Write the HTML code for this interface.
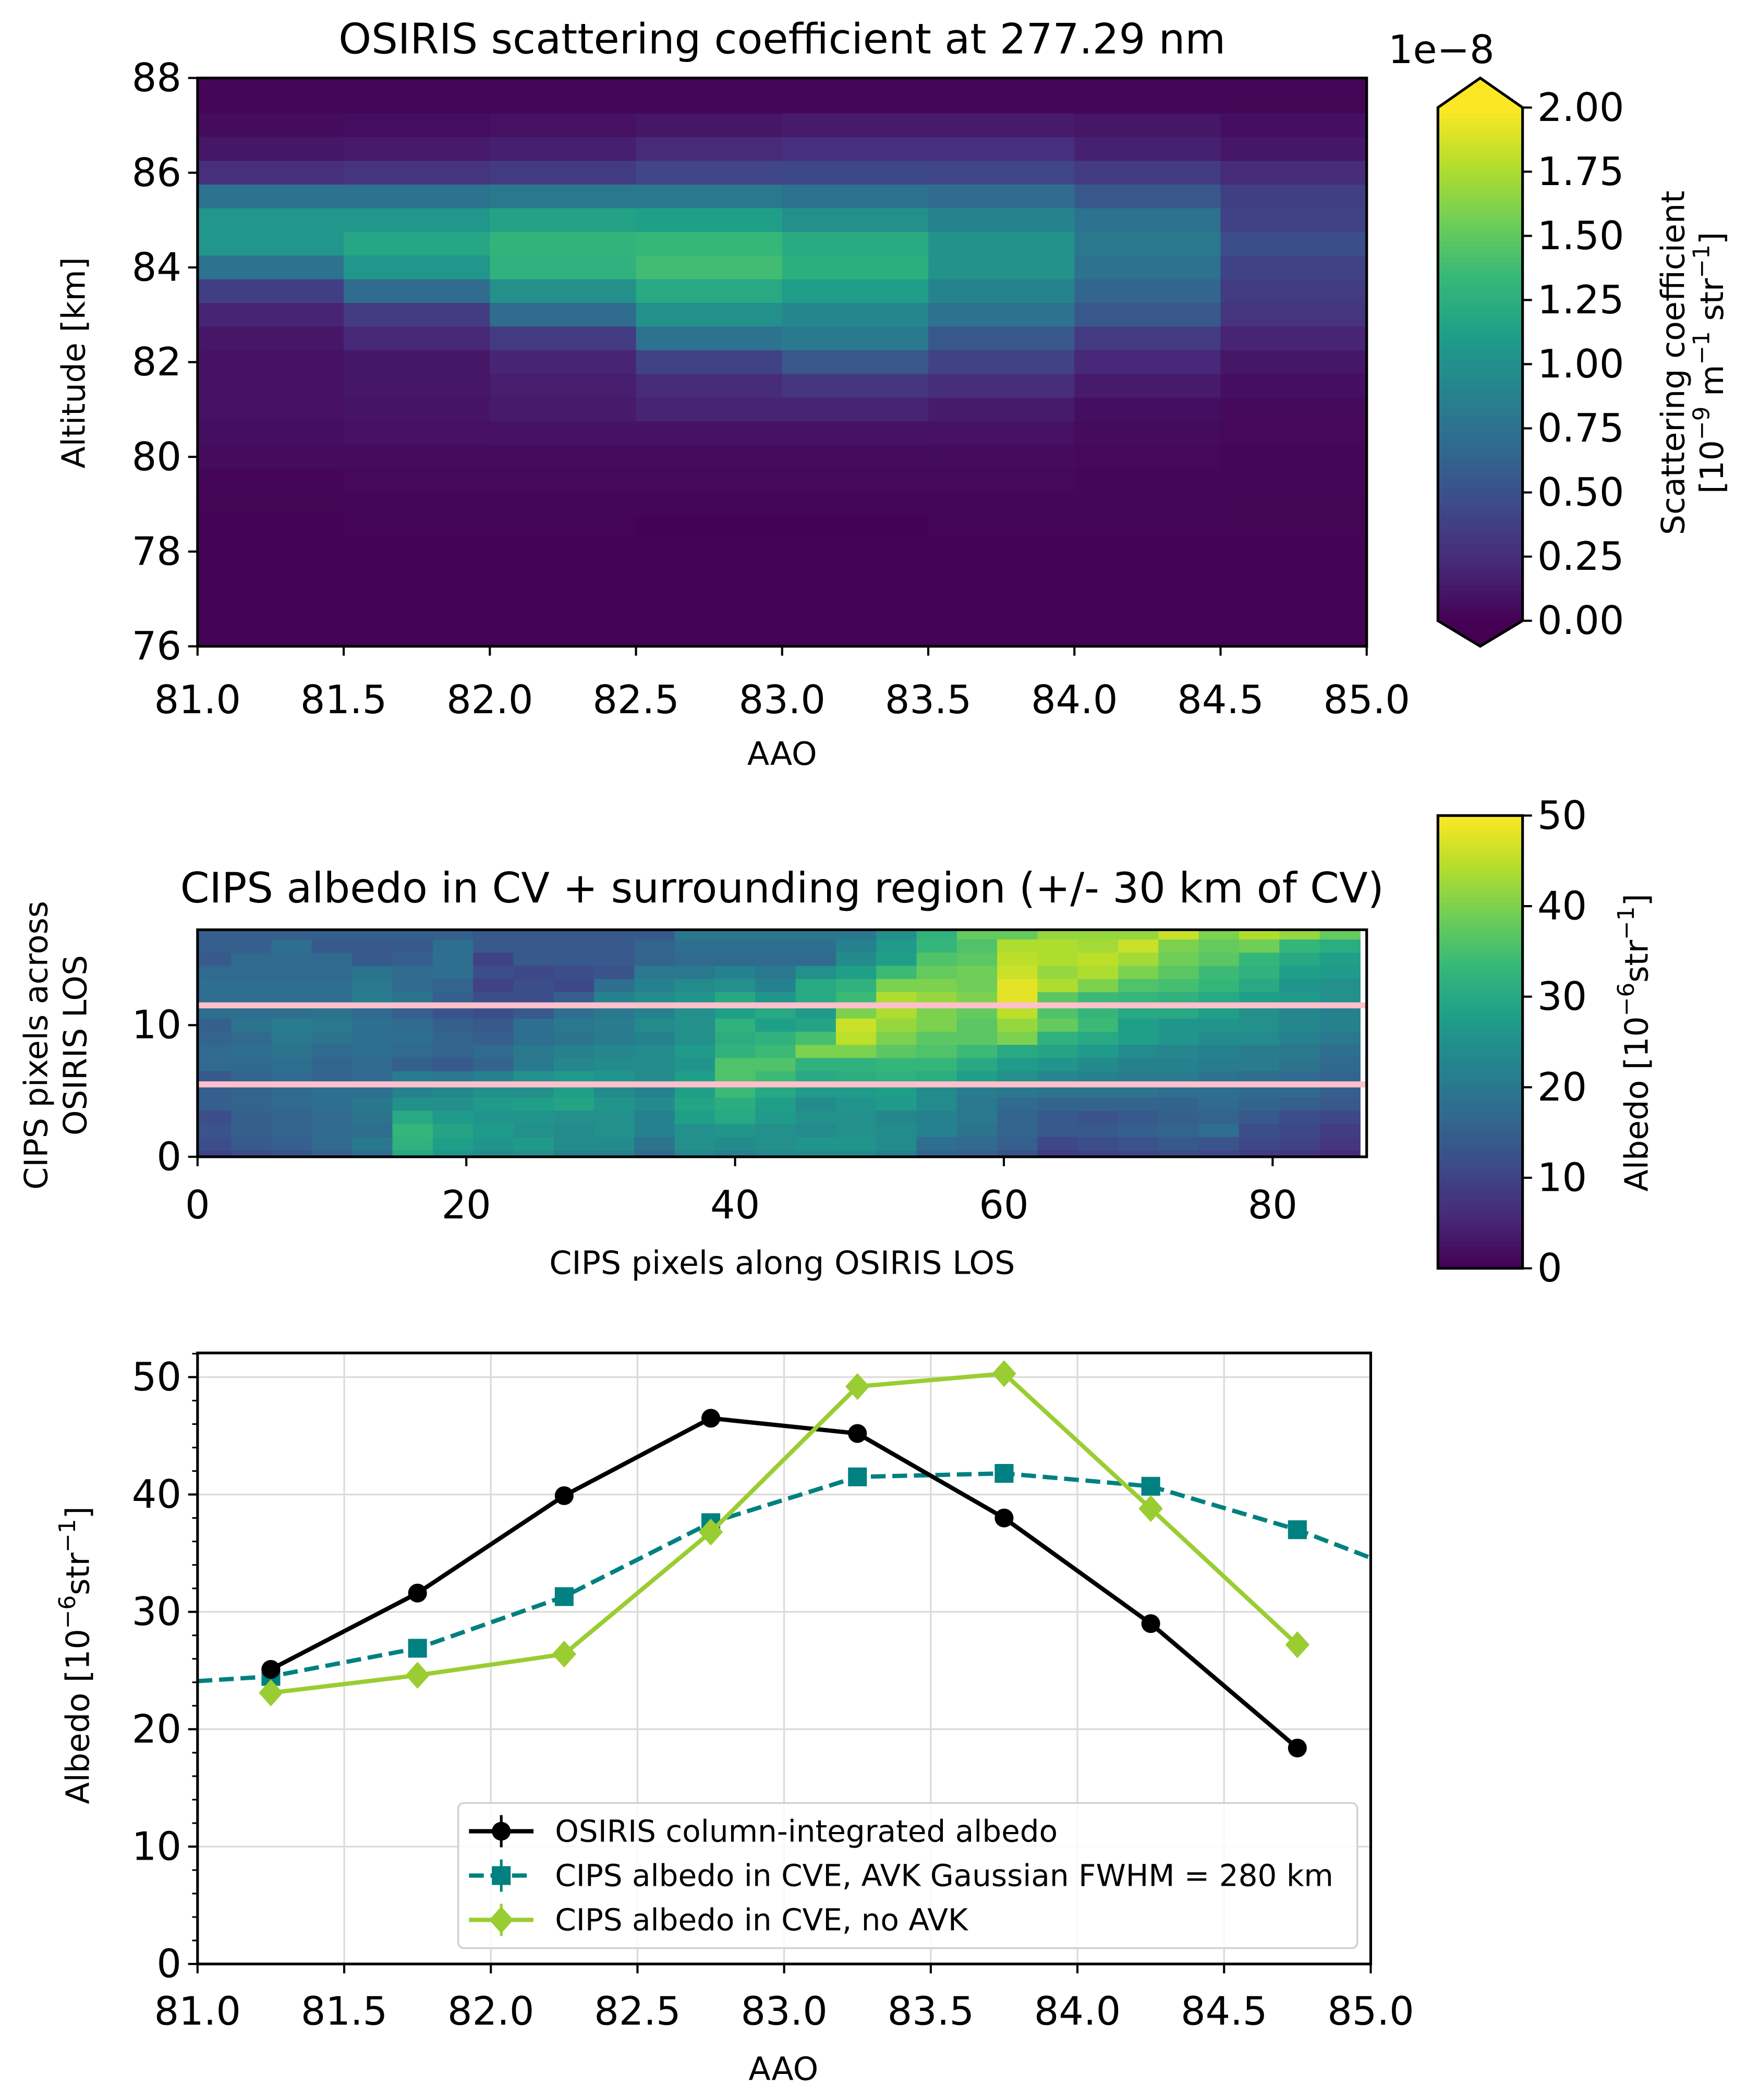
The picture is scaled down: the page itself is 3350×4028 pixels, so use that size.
<!DOCTYPE html>
<html><head><meta charset="utf-8">
<style>
html,body{margin:0;padding:0;background:#fff;}
svg{display:block;}
text{font-family:"DejaVu Sans","Liberation Sans",sans-serif;fill:#000;}
</style></head>
<body>
<svg id="fig" xmlns="http://www.w3.org/2000/svg" width="3350" height="4028" viewBox="0 0 1300 1563">
<rect x="0" y="0" width="1300" height="1563" fill="#fff"/>
<g id="topPanel"></g>
<g id="midPanel"></g>
<g id="botPanel"></g>
</svg>
<script>
// ---------- data ----------
// rows centred at 88, 87.5, ... 76 km (25 rows); 8 AAO columns; units 1e-8
const osirisRows = [
[0.03,0.03,0.03,0.03,0.03,0.03,0.03,0.02],
[0.03,0.03,0.03,0.03,0.03,0.03,0.03,0.02],
[0.06,0.07,0.09,0.12,0.15,0.15,0.12,0.08],
[0.12,0.14,0.17,0.24,0.27,0.27,0.18,0.12],
[0.27,0.30,0.35,0.42,0.44,0.42,0.35,0.25],
[0.75,0.75,0.80,0.80,0.75,0.70,0.55,0.38],
[1.05,1.05,1.15,1.12,1.00,0.90,0.75,0.40],
[1.05,1.18,1.30,1.33,1.22,1.02,0.80,0.48],
[0.75,1.05,1.28,1.38,1.25,1.02,0.75,0.40],
[0.38,0.70,1.00,1.20,1.10,0.90,0.65,0.35],
[0.20,0.35,0.70,1.00,0.92,0.75,0.55,0.30],
[0.12,0.22,0.35,0.75,0.82,0.55,0.35,0.20],
[0.10,0.12,0.20,0.40,0.55,0.40,0.22,0.12],
[0.10,0.12,0.16,0.25,0.32,0.26,0.15,0.08],
[0.09,0.11,0.14,0.20,0.20,0.15,0.08,0.05],
[0.08,0.09,0.10,0.10,0.10,0.09,0.06,0.04],
[0.06,0.06,0.06,0.06,0.06,0.06,0.04,0.03],
[0.03,0.04,0.04,0.04,0.04,0.04,0.03,0.03],
[0.02,0.03,0.03,0.03,0.03,0.03,0.03,0.02],
[0.01,0.02,0.02,0.005,0.005,0.02,0.02,0.02],
[0.01,0.01,0.01,0.01,0.01,0.01,0.01,0.01],
[0.01,0.01,0.01,0.01,0.01,0.01,0.01,0.01],
[0.01,0.01,0.01,0.01,0.01,0.01,0.01,0.01],
[0.01,0.01,0.01,0.01,0.01,0.01,0.01,0.01],
[0.01,0.01,0.01,0.01,0.01,0.01,0.01,0.01]];
const osirisXTicks = [81.0,81.5,82.0,82.5,83.0,83.5,84.0,84.5,85.0];
const osirisYTicks = [76,78,80,82,84,86,88];
const cbar1Ticks = [0,0.25,0.5,0.75,1.0,1.25,1.5,1.75,2.0];

const cipsRows = [
[15,15,15,15,15,15,15,14,14,14,14,14,20,20,20,20,20,25,32,38,38,42,42,42,46,40,44,42,38],
[15,15,18,14,14,14,18,14,14,14,14,16,18,18,18,18,22,27,33,36,44,44,43,46,40,38,39,33,31],
[14,17,17,17,14,15,18,10,14,14,14,16,17,17,17,17,24,28,36,37,45,44,45,43,39,37,33,30,28],
[17,17,17,17,19,17,18,12,11,12,13,20,20,22,20,25,28,34,38,39,46,42,44,40,37,34,32,28,27],
[18,18,18,18,20,17,16,10,12,11,18,22,24,25,22,30,32,40,40,39,48,44,40,36,35,33,30,26,25],
[18,18,18,18,21,19,15,12,12,15,22,24,26,30,26,30,34,44,42,40,48,37,34,33,32,30,28,27,25],
[18,18,18,19,17,15,13,12,14,18,20,22,25,28,30,27,40,44,40,38,45,36,33,30,30,28,25,23,22],
[15,19,21,20,18,17,15,14,18,20,21,24,25,32,28,29,46,42,40,37,42,38,34,28,26,26,25,23,22],
[16,17,20,19,18,18,16,15,18,19,21,22,25,31,32,35,45,40,37,37,40,32,30,28,26,24,24,22,20],
[17,18,19,17,18,17,16,17,20,22,23,24,27,32,34,40,40,37,36,34,30,29,27,24,23,22,21,20,18],
[17,17,18,16,17,15,14,16,20,23,24,24,26,36,36,32,32,33,33,30,27,26,24,22,22,21,21,19,17],
[14,16,17,16,17,21,20,22,25,27,26,24,28,36,34,30,31,32,31,28,25,23,22,21,21,19,18,17,16],
[15,16,17,18,18,22,23,25,25,28,24,22,28,34,30,27,27,28,24,21,20,19,19,19,18,18,17,17,15],
[15,16,17,18,20,25,25,27,28,29,26,24,29,31,28,24,26,27,24,20,17,16,16,16,16,17,16,15,14],
[12,15,16,17,19,30,27,26,26,25,25,22,28,30,27,25,25,23,22,20,16,14,13,14,15,16,14,12,11],
[13,15,16,17,18,33,29,27,25,24,25,22,25,26,25,24,25,24,22,19,16,14,14,15,16,18,12,11,9],
[12,14,15,17,20,32,28,26,27,24,24,19,25,24,25,26,26,24,18,17,15,11,12,13,14,13,11,10,8],
[10,12,13,15,18,30,26,24,25,22,22,17,23,22,23,24,24,22,16,15,13,9,10,11,12,11,9,8,6]];
const cipsXTicks = [0,20,40,60,80];
const cipsYTicks = [0,10];
const pinkLineRows = [5.5,11.5];
const cbar2Ticks = [0,10,20,30,40,50];

const aaoCenters = [81.25,81.75,82.25,82.75,83.25,83.75,84.25,84.75];
const osirisAlbedo = [25.1,31.6,39.9,46.5,45.2,38.0,29.0,18.4];
const avkX = [81.0,81.25,81.75,82.25,82.75,83.25,83.75,84.25,84.75,85.0];
const avkAlbedo = [24.1,24.5,26.9,31.3,37.6,41.5,41.8,40.7,37.0,34.6];
const avkMarkerIdx = [1,2,3,4,5,6,7,8];
const noAvkAlbedo = [23.1,24.6,26.4,36.8,49.2,50.3,38.8,27.2];
const botXTicks = [81.0,81.5,82.0,82.5,83.0,83.5,84.0,84.5,85.0];
const botYTicks = [0,10,20,30,40,50];
const botYMinor = [2,4,6,8,12,14,16,18,22,24,26,28,32,34,36,38,42,44,46,48,52];

// ---------- helpers ----------
const NS="http://www.w3.org/2000/svg";
const FT=29, FL=24, FTITLE=31;
const VIR=["#440154","#482878","#3e4989","#31688e","#26828e","#1f9e89","#35b779","#6ece58","#b5de2b","#fde725"];
function hexc(c){return [parseInt(c.substr(1,2),16),parseInt(c.substr(3,2),16),parseInt(c.substr(5,2),16)];}
const VIRC=VIR.map(hexc);
function viridis(t){t=Math.max(0,Math.min(1,t));const p=t*(VIRC.length-1);const i=Math.min(Math.floor(p),VIRC.length-2);const f=p-i;
const a=VIRC[i],b=VIRC[i+1];return "rgb("+[0,1,2].map(k=>Math.round(a[k]+(b[k]-a[k])*f)).join(",")+")";}
function mk(parent,tag,attrs,txt){const e=document.createElementNS(NS,tag);for(const k in attrs)e.setAttribute(k,attrs[k]);if(txt!==undefined)e.textContent=txt;parent.appendChild(e);return e;}
function fmt(v,d){return v.toFixed(d);}
function supLabel(parent,attrs,parts){const e=mk(parent,'text',attrs);parts.forEach(p=>{mk(e,'tspan',p.sup?{dy:-8,'font-size':17}:{dy:p.down?8:0},p.t);});return e;}

// ---------- TOP PANEL ----------
const topG=document.getElementById('topPanel');
const T={x0:147,x1:1017,y0:58,y1:481};
const tx=v=>T.x0+(v-81)/4*(T.x1-T.x0);
const ty=v=>T.y0+(88-v)/12*(T.y1-T.y0);
osirisRows.forEach((row,r)=>{const c0=88-r*0.5;const hi=Math.min(88,c0+0.25),lo=Math.max(76,c0-0.25);
 row.forEach((val,c)=>{
  const x0=tx(81+c*0.5),x1=tx(81.5+c*0.5),y0=ty(hi),y1=ty(lo);
  const e=mk(topG,'rect',{x:x0,y:y0,width:x1-x0+0.4,height:y1-y0+0.4,fill:viridis(val/2)});
  
  
});});
{const e=mk(topG,'rect',{x:T.x0,y:T.y0,width:T.x1-T.x0,height:T.y1-T.y0,fill:'none',stroke:'#000','stroke-width':2});
}
osirisYTicks.forEach(v=>{mk(topG,'line',{x1:T.x0-7,x2:T.x0,y1:ty(v),y2:ty(v),stroke:'#000','stroke-width':1.6});
 const e=mk(topG,'text',{x:T.x0-12,y:ty(v),'text-anchor':'end','dominant-baseline':'central','font-size':FT},String(v));
 });
osirisXTicks.forEach(v=>{mk(topG,'line',{x1:tx(v),x2:tx(v),y1:T.y1,y2:T.y1+7,stroke:'#000','stroke-width':1.6});
 const e=mk(topG,'text',{x:tx(v),y:T.y1+40,'text-anchor':'middle','dominant-baseline':'central','font-size':FT},fmt(v,1));
 });
{let e=mk(topG,'text',{x:582,y:29,'text-anchor':'middle','dominant-baseline':'central','font-size':FTITLE},'OSIRIS scattering coefficient at 277.29 nm');

e=mk(topG,'text',{x:582,y:561,'text-anchor':'middle','dominant-baseline':'central','font-size':FL},'AAO');

e=mk(topG,'text',{x:55,y:270,'text-anchor':'middle','dominant-baseline':'central','font-size':FL,transform:'rotate(-90 55 270)'},'Altitude [km]');
}
const C1={x0:1070,x1:1133,y0:80,y1:462};
const c1y=v=>C1.y1-(v/2)*(C1.y1-C1.y0);
for(let i=0;i<100;i++){const v0=i/100*2,v1=(i+1)/100*2;mk(topG,'rect',{x:C1.x0,y:c1y(v1),width:C1.x1-C1.x0,height:c1y(v0)-c1y(v1)+0.5,fill:viridis((i+0.5)/100)});}
mk(topG,'polygon',{points:`${C1.x0},${C1.y0} ${(C1.x0+C1.x1)/2},58 ${C1.x1},${C1.y0}`,fill:viridis(1)});
mk(topG,'polygon',{points:`${C1.x0},${C1.y1} ${(C1.x0+C1.x1)/2},481 ${C1.x1},${C1.y1}`,fill:viridis(0)});
{const e=mk(topG,'polygon',{points:`${C1.x0},${C1.y0} ${(C1.x0+C1.x1)/2},58 ${C1.x1},${C1.y0} ${C1.x1},${C1.y1} ${(C1.x0+C1.x1)/2},481 ${C1.x0},${C1.y1}`,fill:'none',stroke:'#000','stroke-width':2});
}
cbar1Ticks.forEach(v=>{mk(topG,'line',{x1:C1.x1,x2:C1.x1+7,y1:c1y(v),y2:c1y(v),stroke:'#000','stroke-width':1.6});
 const e=mk(topG,'text',{x:C1.x1+11,y:c1y(v),'dominant-baseline':'central','font-size':FT},fmt(v,2));
 });
{let e=mk(topG,'text',{x:1033,y:37,'dominant-baseline':'central','font-size':FT},'1e\u22128');

e=mk(topG,'text',{x:1245,y:270,'text-anchor':'middle','dominant-baseline':'central','font-size':FL,transform:'rotate(-90 1245 270)'},'Scattering coefficient');

e=supLabel(topG,{x:1274,y:270,'text-anchor':'middle','dominant-baseline':'central','font-size':FL,transform:'rotate(-90 1274 270)'},
 [{t:'[10'},{t:'\u22129',sup:1},{t:' m',down:1},{t:'\u22121',sup:1},{t:' str',down:1},{t:'\u22121',sup:1},{t:']',down:1}]);
}

// ---------- MIDDLE PANEL ----------
const midG=document.getElementById('midPanel');
const M={x0:147,x1:1017,y0:692,y1:861,ymax:17.24,xmax:87};
const mx=v=>M.x0+v/M.xmax*(M.x1-M.x0);
const my=v=>M.y1-v/M.ymax*(M.y1-M.y0);
const nRows=cipsRows.length;
cipsRows.forEach((row,ri)=>{const j=nRows-1-ri;const lo=Math.max(0,j-0.5),hi=Math.min(M.ymax,j+0.5);
 row.forEach((val,g)=>{const xa=mx(Math.max(0,g*3-0.5)),xb=mx(Math.min(M.xmax,g*3+2.5));
  const e=mk(midG,'rect',{x:xa,y:my(hi),width:xb-xa+0.4,height:my(lo)-my(hi)+0.4,fill:viridis(val/50)});
  
  
 });});
pinkLineRows.forEach(v=>{const e=mk(midG,'line',{x1:M.x0,x2:M.x1,y1:my(v),y2:my(v),stroke:'#ffc0cb','stroke-width':4.5});
 });
{const e=mk(midG,'rect',{x:M.x0,y:M.y0,width:M.x1-M.x0,height:M.y1-M.y0,fill:'none',stroke:'#000','stroke-width':2});
}
cipsYTicks.forEach(v=>{mk(midG,'line',{x1:M.x0-7,x2:M.x0,y1:my(v),y2:my(v),stroke:'#000','stroke-width':1.6});
 const e=mk(midG,'text',{x:M.x0-12,y:my(v),'text-anchor':'end','dominant-baseline':'central','font-size':FT},String(v));
 });
cipsXTicks.forEach(v=>{mk(midG,'line',{x1:mx(v),x2:mx(v),y1:M.y1,y2:M.y1+7,stroke:'#000','stroke-width':1.6});
 const e=mk(midG,'text',{x:mx(v),y:M.y1+36,'text-anchor':'middle','dominant-baseline':'central','font-size':FT},String(v));
 });
{let e=mk(midG,'text',{x:582,y:661,'text-anchor':'middle','dominant-baseline':'central','font-size':FTITLE},'CIPS albedo in CV + surrounding region (+/- 30 km of CV)');

e=mk(midG,'text',{x:582,y:940,'text-anchor':'middle','dominant-baseline':'central','font-size':FL},'CIPS pixels along OSIRIS LOS');

e=mk(midG,'text',{x:27,y:778,'text-anchor':'middle','dominant-baseline':'central','font-size':FL,transform:'rotate(-90 27 778)'},'CIPS pixels across');

e=mk(midG,'text',{x:56,y:778,'text-anchor':'middle','dominant-baseline':'central','font-size':FL,transform:'rotate(-90 56 778)'},'OSIRIS LOS');
}
const C2={x0:1070,x1:1133,y0:607,y1:944};
const c2y=v=>C2.y1-(v/50)*(C2.y1-C2.y0);
for(let i=0;i<100;i++){const v0=i/100*50,v1=(i+1)/100*50;mk(midG,'rect',{x:C2.x0,y:c2y(v1),width:C2.x1-C2.x0,height:c2y(v0)-c2y(v1)+0.5,fill:viridis((i+0.5)/100)});}
{const e=mk(midG,'rect',{x:C2.x0,y:C2.y0,width:C2.x1-C2.x0,height:C2.y1-C2.y0,fill:'none',stroke:'#000','stroke-width':2});
}
cbar2Ticks.forEach(v=>{mk(midG,'line',{x1:C2.x1,x2:C2.x1+7,y1:c2y(v),y2:c2y(v),stroke:'#000','stroke-width':1.6});
 const e=mk(midG,'text',{x:C2.x1+11,y:c2y(v),'dominant-baseline':'central','font-size':FT},String(v));
 });
{const e=supLabel(midG,{x:1218,y:776,'text-anchor':'middle','dominant-baseline':'central','font-size':FL,transform:'rotate(-90 1218 776)'},
 [{t:'Albedo [10'},{t:'\u22126',sup:1},{t:'str',down:1},{t:'\u22121',sup:1},{t:']',down:1}]);
}

// ---------- BOTTOM PANEL ----------
const botG=document.getElementById('botPanel');
const B={x0:147,x1:1020,y0:1007,y1:1461.8};
const bx=v=>B.x0+(v-81)/4*(B.x1-B.x0);
const by=v=>B.y1-v*8.736;
botXTicks.forEach(v=>{if(v>81&&v<85)mk(botG,'line',{x1:bx(v),x2:bx(v),y1:B.y0,y2:B.y1,stroke:'#dcdcdc','stroke-width':1.3});});
botYTicks.forEach(v=>{if(v>0)mk(botG,'line',{x1:B.x0,x2:B.x1,y1:by(v),y2:by(v),stroke:'#dcdcdc','stroke-width':1.3});});
const clipP=mk(botG,'clipPath',{id:'botclip'});mk(clipP,'rect',{x:B.x0,y:B.y0,width:B.x1-B.x0,height:B.y1-B.y0});
const plotG=mk(botG,'g',{'clip-path':'url(#botclip)'});
{const pts=avkX.map((x,i)=>bx(x)+','+by(avkAlbedo[i])).join(' ');
 const e=mk(plotG,'polyline',{points:pts,fill:'none',stroke:'#008080','stroke-width':3.2,'stroke-dasharray':'11,5'});
 }
avkMarkerIdx.forEach(i=>{const cx=bx(avkX[i]),cy=by(avkAlbedo[i]);
 const e=mk(plotG,'rect',{x:cx-7,y:cy-7,width:14,height:14,fill:'#008080'});
 });
{const pts=aaoCenters.map((x,i)=>bx(x)+','+by(osirisAlbedo[i])).join(' ');
 const e=mk(plotG,'polyline',{points:pts,fill:'none',stroke:'#000','stroke-width':3.2});
 }
aaoCenters.forEach((x,i)=>{const e=mk(plotG,'circle',{cx:bx(x),cy:by(osirisAlbedo[i]),r:7,fill:'#000'});
 });
{const pts=aaoCenters.map((x,i)=>bx(x)+','+by(noAvkAlbedo[i])).join(' ');
 const e=mk(plotG,'polyline',{points:pts,fill:'none',stroke:'#9acd32','stroke-width':3.2});
 }
aaoCenters.forEach((x,i)=>{const cx=bx(x),cy=by(noAvkAlbedo[i]);
 const e=mk(plotG,'polygon',{points:`${cx},${cy-10} ${cx+9},${cy} ${cx},${cy+10} ${cx-9},${cy}`,fill:'#9acd32'});
 });
{const e=mk(botG,'rect',{x:B.x0,y:B.y0,width:B.x1-B.x0,height:B.y1-B.y0,fill:'none',stroke:'#000','stroke-width':2});
}
botYTicks.forEach(v=>{mk(botG,'line',{x1:B.x0-7,x2:B.x0,y1:by(v),y2:by(v),stroke:'#000','stroke-width':1.6});
 const e=mk(botG,'text',{x:B.x0-12,y:by(v),'text-anchor':'end','dominant-baseline':'central','font-size':FT},String(v));
 });
botYMinor.forEach(v=>{mk(botG,'line',{x1:B.x0-4,x2:B.x0,y1:by(v),y2:by(v),stroke:'#000','stroke-width':1.2});});
botXTicks.forEach(v=>{mk(botG,'line',{x1:bx(v),x2:bx(v),y1:B.y1,y2:B.y1+7,stroke:'#000','stroke-width':1.6});
 const e=mk(botG,'text',{x:bx(v),y:1497,'text-anchor':'middle','dominant-baseline':'central','font-size':FT},fmt(v,1));
 });
{let e=mk(botG,'text',{x:583,y:1540,'text-anchor':'middle','dominant-baseline':'central','font-size':FL},'AAO');

e=supLabel(botG,{x:58,y:1232,'text-anchor':'middle','dominant-baseline':'central','font-size':FL,transform:'rotate(-90 58 1232)'},
 [{t:'Albedo [10'},{t:'\u22126',sup:1},{t:'str',down:1},{t:'\u22121',sup:1},{t:']',down:1}]);
}
const L=mk(botG,'g',{});


mk(L,'rect',{x:341,y:1342,width:669,height:108,rx:4,fill:'rgba(255,255,255,0.85)',stroke:'#d0d0d0','stroke-width':1.3});
const legItems=[['OSIRIS column-integrated albedo','#000','circle',1363],['CIPS albedo in CVE, AVK Gaussian FWHM = 280 km','#008080','square',1396],['CIPS albedo in CVE, no AVK','#9acd32','diamond',1429]];
legItems.forEach(it=>{const [lab,col,m,y]=it;const g=mk(L,'g',{});
 
 
 mk(g,'line',{x1:349,x2:397,y1:y,y2:y,stroke:col,'stroke-width':3.2,'stroke-dasharray':m==='square'?'11,5':'none'});
 mk(g,'line',{x1:373,x2:373,y1:y-12,y2:y+12,stroke:col,'stroke-width':2});
 if(m==='circle')mk(g,'circle',{cx:373,cy:y,r:7,fill:col});
 if(m==='square')mk(g,'rect',{x:366,y:y-7,width:14,height:14,fill:col});
 if(m==='diamond')mk(g,'polygon',{points:`373,${y-10} 382,${y} 373,${y+10} 364,${y}`,fill:col});
 mk(g,'text',{x:413,y:y,'dominant-baseline':'central','font-size':22.5},lab);
});
</script>
</body></html>
